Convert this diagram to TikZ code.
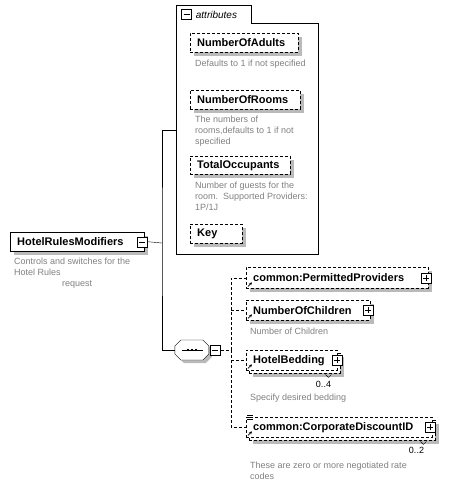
\documentclass[tikz,border=0pt]{standalone}
\usepackage{fontspec}
\setmainfont{Liberation Sans}
\usetikzlibrary{arrows.meta,positioning,calc,backgrounds}

\begin{document}
\begin{tikzpicture}[x=1pt,y=-1pt,>=Stealth,
  box/.style={draw,fill=white,font=\fontsize{11}{13}\selectfont\bfseries,
    inner xsep=7pt,inner ysep=0pt,anchor=north west,align=left},
  shd/.style={fill=black!27},
  dsh/.style={dash pattern=on 3pt off 2pt},
  note/.style={font=\fontsize{9}{11}\selectfont,text=black!50,anchor=north west,align=left,inner sep=0pt},
  tog/.style={draw,solid,fill=white,minimum size=10pt,inner sep=0pt},
  minus/.style={tog,path picture={\draw ([xshift=2pt]path picture bounding box.west)--([xshift=-2pt]path picture bounding box.east);}},
  plus/.style={tog,path picture={\draw ([xshift=2pt]path picture bounding box.west)--([xshift=-2pt]path picture bounding box.east);
      \draw ([yshift=-2pt]path picture bounding box.north)--([yshift=2pt]path picture bounding box.south);}},
  mult/.style={font=\fontsize{9}{11}\selectfont,inner sep=0pt}]
  \useasboundingbox (0,0) rectangle (449,499);

  % root element
  \node[box,text width=120pt,minimum height=19pt] (hrm) at (10,232) {HotelRulesModifiers};
  \node[minus] (hmin) at ([xshift=-2pt]hrm.east) {};
  \node[note] (hrmn) at (14,258) {Controls and switches for the\\Hotel Rules\\\hspace*{48pt}request};

  % attributes group
  \node[minimum width=142pt,minimum height=249pt,anchor=north west,inner sep=0pt] (attr) at (176,5) {};
  \draw (attr.south west) -- (attr.north west) -- (251,5) -- (251,23) -- (attr.north east |- 0,23)
     -- (attr.south east) -- cycle;
  \node[minus] (amin) at (186.5,14.5) {};
  \node[font=\fontsize{10}{12}\selectfont\itshape,anchor=west,inner sep=0pt,right=4pt of amin] (attrl) {attributes};
  \node[box,dsh,text width=94pt,minimum height=19pt] (adults) at (190,33) {NumberOfAdults};
  \node[note] (adultsn) at (195,60) {Defaults to 1 if not specified};
  \node[box,dsh,text width=96pt,minimum height=19pt] (rooms) at (190,90) {NumberOfRooms};
  \node[note] (roomsn) at (195,116) {The numbers of\\rooms,defaults to 1 if not\\specified};
  \node[box,dsh,text width=86pt,minimum height=18pt] (total) at (190,156) {TotalOccupants};
  \node[note] (totaln) at (195,182) {Number of guests for the\\room.\ \ Supported Providers:\\1P/1J};
  \node[box,dsh,text width=38pt,minimum height=19pt] (key) at (190,224) {Key};

  % sequence
  \node[minimum width=34pt,minimum height=20pt,inner sep=0pt] (seq) at (192,350) {};
  \path[draw,fill=white] (seq.west) ++(0,-4) -- ++(6,-6) -- ++(22,0) -- ++(6,6) -- ++(0,8)
     -- ++(-6,6) -- ++(-22,0) -- ++(-6,-6) -- cycle;
  \draw ([xshift=-10pt]seq.center) -- ([xshift=11pt]seq.center);
  \foreach \dx in {-4,0,4}
    \fill ([xshift=\dx pt]seq.center) +(-1.2,-1.2) rectangle +(1.2,1.2);
  \node[minus,right=1pt of seq] (smin) {};

  % sequence children
  \node[box,dsh,text width=168pt,minimum height=21pt] (pp) at (246,267) {common:PermittedProviders};
  \node[plus] (ppp) at ([xshift=-2pt]pp.east) {};
  \node[box,dsh,text width=110pt,minimum height=20pt] (kids) at (246,300) {NumberOfChildren};
  \node[plus] (kidsp) at ([xshift=-2pt]kids.east) {};
  \node[note] (kidsn) at (250,328) {Number of Children};
  \node[box,dsh,minimum width=91pt,minimum height=20pt] (bedb) at (249,353) {};
  \node[box,dsh,text width=77pt,minimum height=20pt] (bed) at (246,350) {HotelBedding};
  \node[plus] (bedp) at (bed.east) {};
  \node[mult] (bedm) at (323.5,384) {0..4};
  \node[note] (bedn) at (250,394) {Specify desired bedding};
  \node[box,dsh,minimum width=186pt,minimum height=20pt] (corpb) at (249,420) {};
  \node[box,dsh,text width=172pt,minimum height=20pt] (corp) at (246,417) {common:CorporateDiscountID};
  \node[plus] (corpp) at ([xshift=-2pt]corp.east) {};
  \node[mult] (corpm) at (416.5,450) {0..2};
  \node[note] (corpn) at (250,462) {These are zero or more negotiated rate\\codes};
  \foreach \d in {-2,0,2}
    \draw ([shift={(1,\d)}]corp.north west) -- ++(6,0);
  \foreach \n in {bedb,corpb}
    \draw ([shift={(-15,1)}]\n.south east) -- ++(3,3) -- ++(3,-3);
  \foreach \n in {pp,kids,bed,corp}
    \draw[-{Stealth[length=3pt,width=3pt]},line width=0.8pt] ([shift={(2,-2)}]\n.south west) -- ++(4,-4);

  % shadows
  \begin{scope}[on background layer]
    \foreach \n in {hrm,adults,rooms,total,key,pp,kids,bedb,corpb}
      \fill[shd] ([shift={(4,4)}]\n.south west) rectangle ([shift={(4,4)}]\n.north east);
    \path[shd] ([shift={(3,3)}]seq.west) ++(0,-4) -- ++(6,-6) -- ++(22,0) -- ++(6,6) -- ++(0,8)
       -- ++(-6,6) -- ++(-22,0) -- ++(-6,-6) -- cycle;
  \end{scope}

  % connectors
  \coordinate (bus) at (162,243);
  \draw (hmin.east) -- (bus);
  \draw (attr.west) -| (bus) |- (seq.west);
  \coordinate (sbus) at (231,350);
  \draw[dsh] (smin.east) -- (sbus);
  \foreach \n in {pp,kids,bed,corp}
    \draw[dsh] (sbus) |- (\n.west);
\end{tikzpicture}
\end{document}
